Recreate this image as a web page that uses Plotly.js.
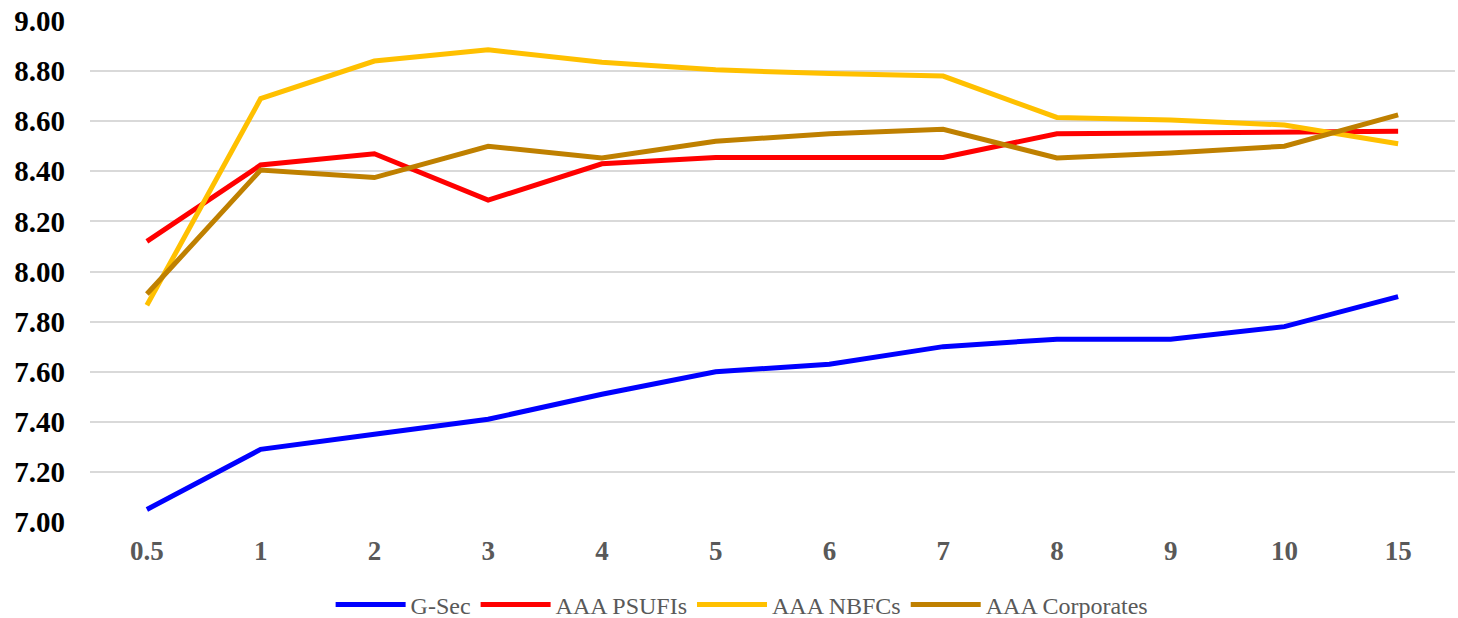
<!DOCTYPE html>
<html>
<head>
<meta charset="utf-8">
<script src="https://cdn.plot.ly/plotly-3.0.1.min.js"></script>
<style>html,body{margin:0;padding:0;background:#fff;}#chart{width:1458px;height:618px;}</style>
</head>
<body>
<div id="chart"></div>
<script>
const tenors = ["0.5","1","2","3","4","5","6","7","8","9","10","15"];
const gsec = [7.05,7.29,7.35,7.41,7.51,7.60,7.63,7.70,7.73,7.73,7.78,7.90];
const psufi = [8.12,8.425,8.47,8.285,8.43,8.455,8.455,8.455,8.55,8.555,8.56,8.56];
const nbfc = [7.865,8.69,8.84,8.885,8.835,8.805,8.79,8.78,8.615,8.605,8.585,8.51];
const corp = [7.91,8.405,8.375,8.50,8.453,8.52,8.55,8.568,8.453,8.473,8.50,8.625];
const names = ["G-Sec","AAA PSUFIs","AAA NBFCs","AAA Corporates"];
const colors = ["#0000FF","#FF0000","#FFC000","#BF8000"];
const series = [gsec, psufi, nbfc, corp];

const traces = series.map((s,i)=>({
  x: tenors, y: s, name: names[i], type: "scatter", mode: "lines",
  line: {color: colors[i], width: 5}
}));

const layout = {
  width: 1458, height: 618,
  margin: {l: 90, r: 3, t: 21, b: 96},
  paper_bgcolor: "#fff", plot_bgcolor: "#fff",
  font: {family: "Liberation Serif, Times New Roman, serif"},
  xaxis: {
    type: "category", range: [-0.5, 11.5], showgrid: false, zeroline: false,
    showline: false, ticks: "", automargin: false,
    tickfont: {size: 27, color: "#595959", family: "Liberation Serif", weight: "bold"},
    ticklabelstandoff: 10
  },
  yaxis: {
    range: [7.0, 9.0], dtick: 0.2, tickformat: ".2f", automargin: false,
    showgrid: true, gridcolor: "#D9D9D9", gridwidth: 2, zeroline: false,
    ticks: "", showline: false,
    tickfont: {size: 29, color: "#000", family: "Liberation Serif", weight: "bold"},
    ticklabelstandoff: 24
  },
  showlegend: true,
  legend: {
    orientation: "h", x: 0.509, xanchor: "center", xref: "container",
    y: 0.021, yanchor: "middle", yref: "container",
    font: {size: 24, color: "#595959", family: "Liberation Serif"},
    itemwidth: 70, tracegroupgap: 0
  }
};

Plotly.newPlot("chart", traces, layout, {displayModeBar: false, staticPlot: true});
</script>
</body>
</html>
